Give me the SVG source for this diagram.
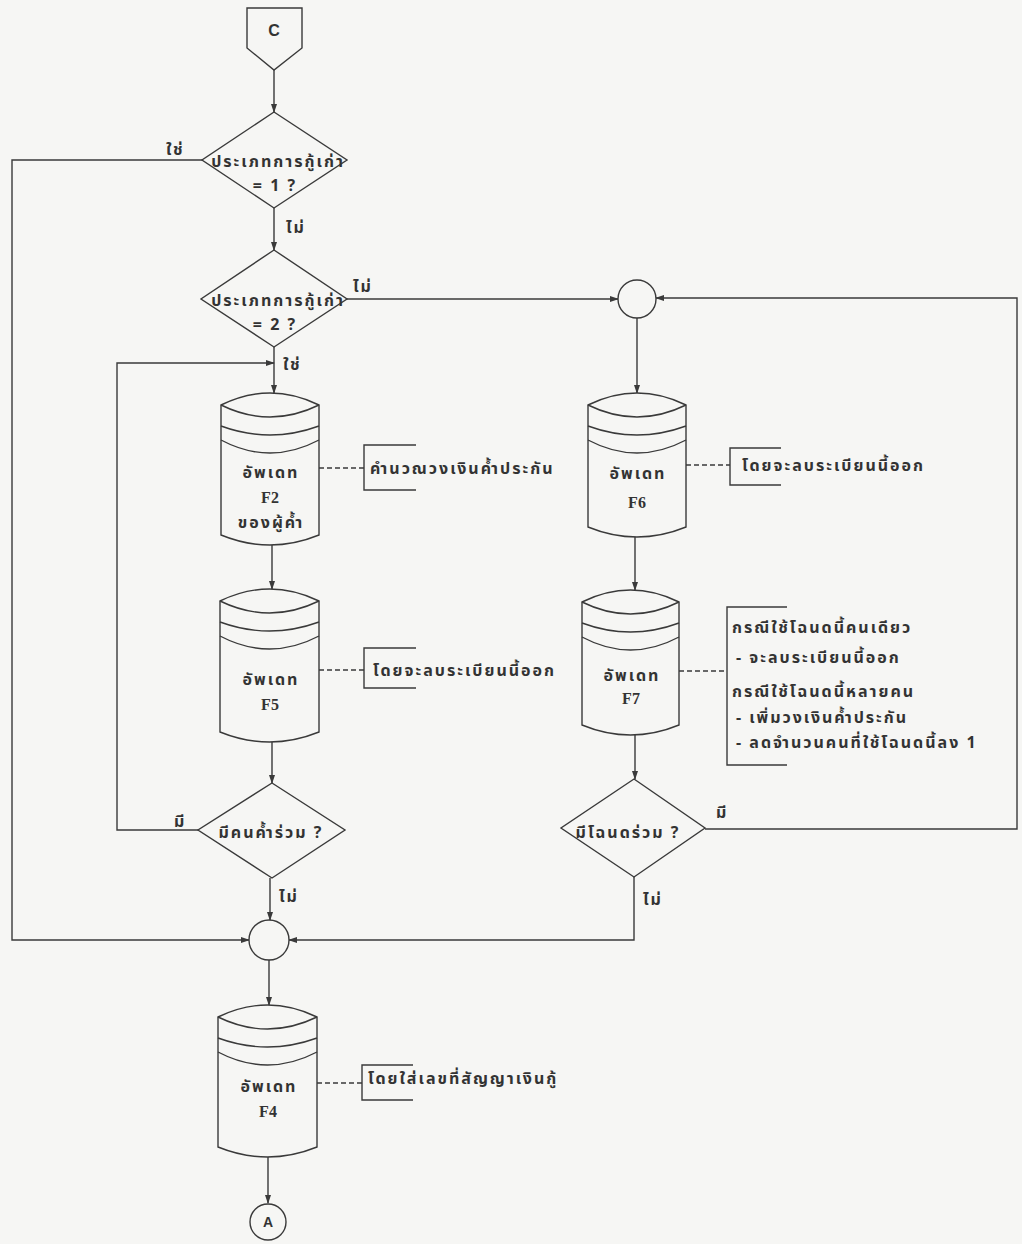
<svg xmlns="http://www.w3.org/2000/svg" width="1022" height="1244" viewBox="0 0 1022 1244">
<style>
.s{fill:none;stroke:#3a3a3a;stroke-width:1.4}
.n{fill:#f6f6f4;stroke:#3a3a3a;stroke-width:1.4}
.d{fill:none;stroke:#3a3a3a;stroke-width:1.4;stroke-dasharray:5 3}
.t{font-family:"Noto Sans Thai","Noto Sans","DejaVu Sans",sans-serif;font-size:16px;font-weight:bold;fill:#333;letter-spacing:2px}
.m{text-anchor:middle}
.l{font-family:"Liberation Serif",serif;font-size:16px;font-weight:bold;fill:#333;text-anchor:middle}
</style>
<defs>
<marker id="ar" markerUnits="userSpaceOnUse" markerWidth="9" markerHeight="6" refX="8" refY="3" orient="auto">
<path d="M0,0 L9,3 L0,6 z" fill="#3a3a3a"/>
</marker>
</defs>
<rect x="0" y="0" width="1022" height="1244" fill="#f6f6f4"/>

<g id="connectors">
<path class="s" d="M274,70 V112" marker-end="url(#ar)"/>
<path class="s" d="M274,208 V250" marker-end="url(#ar)"/>
<path class="s" d="M202,160 H12 V940 H249" marker-end="url(#ar)"/>
<path class="s" d="M347,299 H618" marker-end="url(#ar)"/>
<path class="s" d="M274,347 V393" marker-end="url(#ar)"/>
<path class="s" d="M198,830 H117 V363 H274" marker-end="url(#ar)"/>
<path class="s" d="M272,545 V589" marker-end="url(#ar)"/>
<path class="s" d="M272,742 V783" marker-end="url(#ar)"/>
<path class="s" d="M270,878 V920" marker-end="url(#ar)"/>
<path class="s" d="M634,877 V940 H289" marker-end="url(#ar)"/>
<path class="s" d="M705,829 H1017 V298 H656" marker-end="url(#ar)"/>
<path class="s" d="M637,318 V393" marker-end="url(#ar)"/>
<path class="s" d="M635,537 V590" marker-end="url(#ar)"/>
<path class="s" d="M635,735 V779" marker-end="url(#ar)"/>
<path class="s" d="M269,960 V1005" marker-end="url(#ar)"/>
<path class="s" d="M268,1157 V1203" marker-end="url(#ar)"/>
<text class="t" x="166" y="155">ใช่</text>
<text class="t" x="286" y="233">ไม่</text>
<text class="t" x="353" y="292">ไม่</text>
<text class="t" x="283" y="370">ใช่</text>
<text class="t" x="174" y="827">มี</text>
<text class="t" x="279" y="902">ไม่</text>
<text class="t" x="716" y="818">มี</text>
<text class="t" x="643" y="905">ไม่</text>
</g>

<g id="start-C">
<path class="n" d="M247,8 H302 V48 L274,70 L247,48 Z"/>
<text class="l" x="274" y="36" style="font-family:'Liberation Sans',sans-serif;font-size:16px">C</text>
</g>

<g id="decision-1">
<path class="n" d="M274,112 L347,160 L274,208 L202,160 Z"/>
<text class="t m" x="278" y="167">ประเภทการกู้เก่า</text>
<text class="t m" x="275" y="191">= 1 ?</text>
</g>

<g id="decision-2">
<path class="n" d="M274,250 L347,299 L274,347 L201,299 Z"/>
<text class="t m" x="278" y="306">ประเภทการกู้เก่า</text>
<text class="t m" x="275" y="330">= 2 ?</text>
</g>

<g id="update-F2">
<path class="n" d="M221,405 Q270,381 319,405 V535 Q270,555 221,535 Z"/>
<path class="s" d="M221,405 Q270,429 319,405 M221,426 Q270,444 319,426 M221,440 Q270,466 319,440"/>
<text class="t m" x="271" y="478">อัพเดท</text>
<text class="l" x="270" y="503">F2</text>
<text class="t m" x="271" y="528">ของผู้ค้ำ</text>
</g>
<g id="note-F2">
<path class="d" d="M319,468 H364"/>
<path class="s" d="M416,445 H364 V490 H416"/>
<text class="t" x="370" y="474">คำนวณวงเงินค้ำประกัน</text>
</g>

<g id="update-F5">
<path class="n" d="M220,601 Q269.5,577 319,601 V732 Q269.5,752 220,732 Z"/>
<path class="s" d="M220,601 Q269.5,625 319,601 M220,622 Q269.5,640 319,622 M220,636 Q269.5,662 319,636"/>
<text class="t m" x="271" y="685">อัพเดท</text>
<text class="l" x="270" y="710">F5</text>
</g>
<g id="note-F5">
<path class="d" d="M319,670 H364"/>
<path class="s" d="M416,648 H364 V688 H416"/>
<text class="t" x="373" y="676">โดยจะลบระเบียนนี้ออก</text>
</g>

<g id="decision-3">
<path class="n" d="M272,783 L345,830 L272,878 L198,830 Z"/>
<text class="t m" x="271" y="838">มีคนค้ำร่วม ?</text>
</g>

<g id="merge-2">
<circle class="n" cx="269" cy="940" r="20"/>
</g>

<g id="merge-1">
<circle class="n" cx="637" cy="299" r="19"/>
</g>

<g id="update-F6">
<path class="n" d="M588,405 Q637,381 686,405 V527 Q637,547 588,527 Z"/>
<path class="s" d="M588,405 Q637,429 686,405 M588,426 Q637,444 686,426 M588,440 Q637,466 686,440"/>
<text class="t m" x="638" y="479">อัพเดท</text>
<text class="l" x="637" y="508">F6</text>
</g>
<g id="note-F6">
<path class="d" d="M686,465 H730"/>
<path class="s" d="M781,448 H730 V485 H781"/>
<text class="t" x="742" y="471">โดยจะลบระเบียนนี้ออก</text>
</g>

<g id="update-F7">
<path class="n" d="M582,602 Q630.5,578 679,602 V725 Q630.5,745 582,725 Z"/>
<path class="s" d="M582,602 Q630.5,626 679,602 M582,623 Q630.5,641 679,623 M582,637 Q630.5,663 679,637"/>
<text class="t m" x="632" y="681">อัพเดท</text>
<text class="l" x="631" y="704">F7</text>
</g>
<g id="note-F7">
<path class="d" d="M679,671 H727"/>
<path class="s" d="M787,607 H727 V765 H787"/>
<text class="t" x="732" y="633">กรณีใช้โฉนดนี้คนเดียว</text>
<text class="t" x="736" y="663">- จะลบระเบียนนี้ออก</text>
<text class="t" x="732" y="697">กรณีใช้โฉนดนี้หลายคน</text>
<text class="t" x="736" y="723">- เพิ่มวงเงินค้ำประกัน</text>
<text class="t" x="736" y="748">- ลดจำนวนคนที่ใช้โฉนดนี้ลง 1</text>
</g>

<g id="decision-4">
<path class="n" d="M634,779 L705,828 L634,877 L561,828 Z"/>
<text class="t m" x="628" y="838">มีโฉนดร่วม ?</text>
</g>

<g id="update-F4">
<path class="n" d="M218,1017 Q267.5,993 317,1017 V1147 Q267.5,1167 218,1147 Z"/>
<path class="s" d="M218,1017 Q267.5,1041 317,1017 M218,1038 Q267.5,1056 317,1038 M218,1052 Q267.5,1078 317,1052"/>
<text class="t m" x="269" y="1092">อัพเดท</text>
<text class="l" x="268" y="1117">F4</text>
</g>
<g id="note-F4">
<path class="d" d="M317,1083 H362"/>
<path class="s" d="M413,1065 H362 V1100 H413"/>
<text class="t" x="368" y="1084">โดยใส่เลขที่สัญญาเงินกู้</text>
</g>

<g id="end-A">
<circle class="n" cx="268" cy="1222" r="18"/>
<text class="l" x="268" y="1227" style="font-family:'Liberation Sans',sans-serif;font-size:14px">A</text>
</g>
</svg>
